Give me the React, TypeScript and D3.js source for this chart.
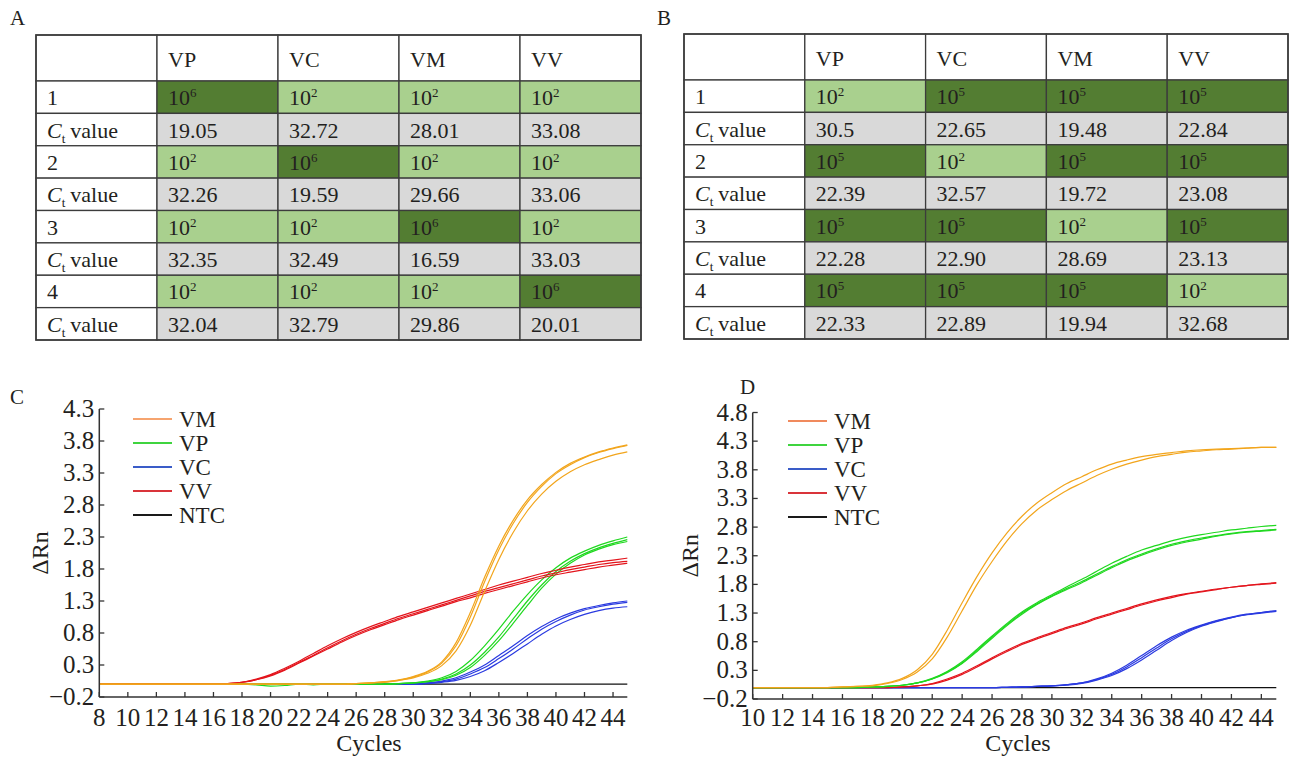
import React from 'react';
import * as d3 from 'd3';

const SERIF = '"Liberation Serif", "Times New Roman", serif';
const INK = '#231f20';

// ---- tables A / B ----
const tableCols = ['VP', 'VC', 'VM', 'VV'];
const tableRuns = ['1', '2', '3', '4'];

const expA = [[6, 2, 2, 2], [2, 6, 2, 2], [2, 2, 6, 2], [2, 2, 2, 6]];
const ctA = [
  ['19.05', '32.72', '28.01', '33.08'],
  ['32.26', '19.59', '29.66', '33.06'],
  ['32.35', '32.49', '16.59', '33.03'],
  ['32.04', '32.79', '29.86', '20.01'],
];

const expB = [[2, 5, 5, 5], [5, 2, 5, 5], [5, 5, 2, 5], [5, 5, 5, 2]];
const ctB = [
  ['30.5', '22.65', '19.48', '22.84'],
  ['22.39', '32.57', '19.72', '23.08'],
  ['22.28', '22.90', '28.69', '23.13'],
  ['22.33', '22.89', '19.94', '32.68'],
];

// ---- amplification curves, panel C (cycles 8..45) ----
const cyclesC = [8, 9, 10, 11, 12, 13, 14, 15, 16, 17, 18, 19, 20, 21, 22, 23, 24, 25, 26, 27, 28, 29, 30, 31, 32, 33, 34, 35, 36, 37, 38, 39, 40, 41, 42, 43, 44, 45];
const yTicksC = [-0.2, 0.3, 0.8, 1.3, 1.8, 2.3, 2.8, 3.3, 3.8, 4.3];
const xTicksC = [8, 10, 12, 14, 16, 18, 20, 22, 24, 26, 28, 30, 32, 34, 36, 38, 40, 42, 44];

const ntcC = [0, 0, 0, 0, 0, 0, 0, 0, 0, 0, 0, 0, 0, 0, 0, 0, 0, 0, 0, 0, 0, 0, 0, 0, 0, 0, 0, 0, 0, 0, 0, 0, 0, 0, 0, 0, 0, 0];
const vmC = [
  [0, 0, 0, 0, 0, 0, 0, 0, 0, 0, 0, 0, 0, 0, 0, 0, 0, 0, 0.01, 0.02, 0.04, 0.07, 0.12, 0.2, 0.35, 0.65, 1.12, 1.67, 2.16, 2.56, 2.88, 3.12, 3.31, 3.45, 3.55, 3.63, 3.69, 3.74],
  [0, 0, 0, 0, 0, 0, 0, 0, 0, 0, 0, 0, 0, 0, 0, 0, 0, 0, 0.01, 0.02, 0.04, 0.06, 0.11, 0.19, 0.33, 0.6, 1.05, 1.6, 2.1, 2.51, 2.84, 3.09, 3.29, 3.43, 3.54, 3.62, 3.68, 3.73],
  [0, 0, 0, 0, 0, 0, 0, 0, 0, 0, 0, 0, 0, 0, 0, 0, 0, 0, 0.01, 0.02, 0.03, 0.06, 0.1, 0.17, 0.29, 0.52, 0.92, 1.45, 1.95, 2.37, 2.71, 2.97, 3.17, 3.32, 3.43, 3.51, 3.58, 3.63],
];
const vpC = [
  [0, 0, 0, 0, 0, 0, 0, 0, 0, 0, 0, -0.01, -0.03, -0.02, 0, -0.01, 0, 0, 0, 0, 0, 0.01, 0.02, 0.05, 0.1, 0.2, 0.37, 0.6, 0.86, 1.14, 1.4, 1.63, 1.82, 1.97, 2.08, 2.17, 2.24, 2.3],
  [0, 0, 0, 0, 0, 0, 0, 0, 0, 0, 0, 0, 0, 0, 0, 0, 0, 0, 0, 0, 0, 0.01, 0.02, 0.04, 0.08, 0.16, 0.3, 0.5, 0.74, 1.02, 1.3, 1.55, 1.76, 1.92, 2.04, 2.13, 2.2, 2.26],
  [0, 0, 0, 0, 0, 0, 0, 0, 0, 0, 0, 0, 0, 0, 0, 0, 0, 0, 0, 0, 0, 0.01, 0.02, 0.04, 0.07, 0.14, 0.26, 0.45, 0.68, 0.95, 1.23, 1.5, 1.72, 1.89, 2.02, 2.11, 2.18, 2.23],
];
const vcC = [
  [0, 0, 0, 0, 0, 0, 0, 0, 0, 0, 0, 0, 0, 0, 0, 0, 0, 0, 0, 0, 0, 0, 0, 0.02, 0.05, 0.1, 0.19, 0.3, 0.45, 0.6, 0.76, 0.9, 1.02, 1.11, 1.18, 1.23, 1.27, 1.3],
  [0, 0, 0, 0, 0, 0, 0, 0, 0, 0, 0, 0, 0, 0, 0, 0, 0, 0, 0, 0, 0, 0, 0, 0.02, 0.04, 0.08, 0.16, 0.26, 0.4, 0.55, 0.71, 0.86, 0.98, 1.08, 1.16, 1.21, 1.25, 1.28],
  [0, 0, 0, 0, 0, 0, 0, 0, 0, 0, 0, 0, 0, 0, 0, 0, 0, 0, 0, 0, 0, 0, 0, 0.01, 0.03, 0.06, 0.12, 0.21, 0.34, 0.48, 0.63, 0.78, 0.91, 1.01, 1.09, 1.15, 1.19, 1.21],
];
const vvC = [
  [0, 0, 0, 0, 0, 0, 0, 0, 0, 0.01, 0.03, 0.08, 0.15, 0.25, 0.36, 0.48, 0.6, 0.71, 0.81, 0.9, 0.98, 1.06, 1.13, 1.2, 1.27, 1.34, 1.41, 1.48, 1.55, 1.61, 1.67, 1.73, 1.78, 1.83, 1.87, 1.91, 1.94, 1.97],
  [0, 0, 0, 0, 0, 0, 0, 0, 0, 0.01, 0.03, 0.07, 0.14, 0.23, 0.34, 0.45, 0.57, 0.68, 0.78, 0.87, 0.95, 1.03, 1.1, 1.17, 1.24, 1.31, 1.38, 1.45, 1.51, 1.57, 1.63, 1.69, 1.74, 1.79, 1.83, 1.87, 1.9, 1.92],
  [0, 0, 0, 0, 0, 0, 0, 0, 0, 0.01, 0.03, 0.07, 0.13, 0.22, 0.33, 0.44, 0.55, 0.66, 0.76, 0.85, 0.93, 1.01, 1.08, 1.15, 1.22, 1.29, 1.35, 1.42, 1.48, 1.54, 1.6, 1.66, 1.71, 1.75, 1.79, 1.83, 1.86, 1.89],
];

// ---- amplification curves, panel D (cycles 10..45) ----
const cyclesD = [10, 11, 12, 13, 14, 15, 16, 17, 18, 19, 20, 21, 22, 23, 24, 25, 26, 27, 28, 29, 30, 31, 32, 33, 34, 35, 36, 37, 38, 39, 40, 41, 42, 43, 44, 45];
const yTicksD = [-0.2, 0.3, 0.8, 1.3, 1.8, 2.3, 2.8, 3.3, 3.8, 4.3, 4.8];
const xTicksD = [10, 12, 14, 16, 18, 20, 22, 24, 26, 28, 30, 32, 34, 36, 38, 40, 42, 44];

const ntcD = [0, 0, 0, 0, 0, 0, 0, 0, 0, 0, 0, 0, 0, 0, 0, 0, 0, 0, 0, 0, 0, 0, 0, 0, 0, 0, 0, 0, 0, 0, 0, 0, 0, 0, 0, 0];
const vmD = [
  [0, 0, 0, 0, 0, 0, 0.01, 0.02, 0.04, 0.08, 0.16, 0.31, 0.58, 1.0, 1.48, 1.94, 2.35, 2.7, 2.99, 3.22, 3.4, 3.56, 3.68, 3.8, 3.9, 3.97, 4.03, 4.07, 4.1, 4.13, 4.15, 4.16, 4.17, 4.18, 4.19, 4.19],
  [0, 0, 0, 0, 0, 0, 0.01, 0.02, 0.03, 0.07, 0.14, 0.27, 0.5, 0.88, 1.34, 1.8, 2.2, 2.56, 2.86, 3.1, 3.28, 3.44, 3.57, 3.7, 3.81, 3.9, 3.97, 4.03, 4.07, 4.11, 4.13, 4.15, 4.16, 4.18, 4.19, 4.19],
];
const vpD = [
  [0, 0, 0, 0, 0, 0, 0, 0, 0.01, 0.02, 0.04, 0.08, 0.16, 0.28, 0.45, 0.67, 0.9, 1.12, 1.32, 1.48, 1.62, 1.76, 1.89, 2.03, 2.17, 2.29, 2.4, 2.48, 2.56, 2.62, 2.67, 2.71, 2.75, 2.78, 2.81, 2.83],
  [0, 0, 0, 0, 0, 0, 0, 0, 0.01, 0.02, 0.04, 0.08, 0.15, 0.27, 0.43, 0.65, 0.88, 1.1, 1.3, 1.46, 1.6, 1.73, 1.85, 1.98, 2.11, 2.23, 2.33, 2.42, 2.5, 2.56, 2.61, 2.65, 2.69, 2.72, 2.74, 2.76],
  [0, 0, 0, 0, 0, 0, 0, 0, 0.01, 0.02, 0.04, 0.08, 0.15, 0.26, 0.42, 0.63, 0.86, 1.08, 1.28, 1.45, 1.59, 1.71, 1.83, 1.96, 2.09, 2.21, 2.31, 2.4, 2.48, 2.54, 2.59, 2.64, 2.68, 2.71, 2.73, 2.75],
];
const vcD = [
  [0, 0, 0, 0, 0, 0, 0, 0, 0, 0, 0, 0, 0, 0, 0, 0, 0, 0.005, 0.01, 0.02, 0.03, 0.05, 0.08, 0.15, 0.25, 0.39, 0.56, 0.73, 0.88, 1.0, 1.09, 1.17, 1.23, 1.28, 1.31, 1.34],
  [0, 0, 0, 0, 0, 0, 0, 0, 0, 0, 0, 0, 0, 0, 0, 0, 0, 0.005, 0.01, 0.02, 0.03, 0.05, 0.08, 0.14, 0.23, 0.36, 0.52, 0.69, 0.85, 0.98, 1.08, 1.16, 1.22, 1.27, 1.31, 1.34],
  [0, 0, 0, 0, 0, 0, 0, 0, 0, 0, 0, 0, 0, 0, 0, 0, 0, 0.005, 0.01, 0.02, 0.03, 0.04, 0.07, 0.13, 0.21, 0.33, 0.48, 0.65, 0.82, 0.96, 1.07, 1.15, 1.22, 1.27, 1.3, 1.33],
];
const vvD = [
  [0, 0, 0, 0, 0, 0, 0, 0, 0, 0, 0.01, 0.03, 0.07, 0.15, 0.25, 0.38, 0.52, 0.65, 0.77, 0.87, 0.96, 1.05, 1.13, 1.22, 1.3, 1.38, 1.46, 1.53, 1.59, 1.64, 1.68, 1.72, 1.75, 1.78, 1.81, 1.83],
  [0, 0, 0, 0, 0, 0, 0, 0, 0, 0, 0.01, 0.03, 0.06, 0.13, 0.23, 0.36, 0.5, 0.63, 0.75, 0.85, 0.94, 1.03, 1.11, 1.2, 1.28, 1.36, 1.44, 1.51, 1.57, 1.63, 1.67, 1.71, 1.75, 1.78, 1.8, 1.82],
];

const legendNames = ['VM', 'VP', 'VC', 'VV', 'NTC'];

const DARK = '#537d32';
const LIGHT = '#a9d08e';
const GREY = '#d9d9d9';

type TableProps = {
  label: string; lx: number; x0: number; x1: number; y0: number; y1: number;
  exps: number[][]; cts: string[][];
};

const CtTable = ({ label, lx, x0, x1, y0, y1, exps, cts }: TableProps) => {
  const headH = 46;
  const col = d3.scaleBand<number>().domain([0, 1, 2, 3, 4]).range([x0, x1]);
  const row = d3.scaleBand<number>().domain(d3.range(8)).range([y0 + headH, y1]);
  const cw = col.bandwidth();
  const rh = row.bandwidth();
  const fs = 22;
  const stroke = '#3c3c3c';

  const cells: React.ReactNode[] = [];
  // header row
  [''].concat(tableCols).forEach((c, j) => {
    cells.push(
      <g key={`h${j}`}>
        <rect x={col(j)} y={y0} width={cw} height={headH} fill="#fff" stroke={stroke} strokeWidth={1.3} />
        <text x={(col(j) as number) + 11} y={y0 + headH / 2 + 9} fontSize={fs} fill={INK}>{c}</text>
      </g>
    );
  });
  tableRuns.forEach((r, i) => {
    const ye = row(i * 2) as number;
    const yc = row(i * 2 + 1) as number;
    cells.push(
      <g key={`r${i}`}>
        <rect x={col(0)} y={ye} width={cw} height={rh} fill="#fff" stroke={stroke} strokeWidth={1.3} />
        <text x={(col(0) as number) + 11} y={ye + rh / 2 + 8} fontSize={fs} fill={INK}>{r}</text>
        <rect x={col(0)} y={yc} width={cw} height={rh} fill="#fff" stroke={stroke} strokeWidth={1.3} />
        <text x={(col(0) as number) + 11} y={yc + rh / 2 + 8} fontSize={fs} fill={INK}>
          <tspan fontStyle="italic">C</tspan>
          <tspan dy={5} fontSize={13}>t</tspan>
          <tspan dy={-5} dx={5}>value</tspan>
        </text>
      </g>
    );
    exps[i].forEach((e, j) => {
      const cx = col(j + 1) as number;
      cells.push(
        <g key={`c${i}-${j}`}>
          <rect x={cx} y={ye} width={cw} height={rh} fill={e >= 5 ? DARK : LIGHT} stroke={stroke} strokeWidth={1.3} />
          <text x={cx + 11} y={ye + rh / 2 + 8} fontSize={fs} fill={INK}>
            10<tspan dy={-8} fontSize={13}>{e}</tspan>
          </text>
          <rect x={cx} y={yc} width={cw} height={rh} fill={GREY} stroke={stroke} strokeWidth={1.3} />
          <text x={cx + 11} y={yc + rh / 2 + 8} fontSize={fs} fill={INK}>{cts[i][j]}</text>
        </g>
      );
    });
  });

  return (
    <g>
      <text x={lx} y={25} fontSize={21} fill={INK}>{label}</text>
      {cells}
      <rect x={x0} y={y0} width={x1 - x0} height={y1 - y0} fill="none" stroke={stroke} strokeWidth={1.6} />
    </g>
  );
};

type Series = { name: string; color: string; legend: string; reps: number[][] };

type ChartProps = {
  label: string; labelX: number; labelY: number;
  cycles: number[]; xDomain: [number, number]; xRange: [number, number];
  yDomain: [number, number]; yRange: [number, number];
  xTicks: number[]; yTicks: number[];
  series: Series[]; ntc: number[];
  legX: number; legY: number; legStep: number;
  yTitleX: number; xTitleX: number;
};

const fmt = (v: number) => (v < 0 ? '\u2212' + Math.abs(v).toFixed(1) : v.toFixed(1));

const AmpChart = (p: ChartProps) => {
  const x = d3.scaleLinear().domain(p.xDomain).range(p.xRange);
  const y = d3.scaleLinear().domain(p.yDomain).range(p.yRange);
  const line = d3.line<number>()
    .x((_, i) => x(p.cycles[i]))
    .y(v => y(v))
    .curve(d3.curveMonotoneX);
  const x0 = p.xRange[0];
  const yb = y(p.yDomain[0]);
  const axis = '#333';

  return (
    <g fontFamily={SERIF} fill={INK}>
      <text x={p.labelX} y={p.labelY} fontSize={21}>{p.label}</text>

      {/* curves */}
      <path d={line(p.ntc) || ''} fill="none" stroke="#111" strokeWidth={1.3} />
      {p.series.map(s =>
        s.reps.map((r, k) => (
          <path key={`${s.name}${k}`} d={line(r) || ''} fill="none" stroke={s.color} strokeWidth={1.2} />
        ))
      )}

      {/* axes */}
      <line x1={x0} x2={x0} y1={yb} y2={y(p.yDomain[1])} stroke={axis} strokeWidth={1.5} />
      <line x1={x0} x2={p.xRange[1]} y1={yb} y2={yb} stroke={axis} strokeWidth={1.5} />
      {p.yTicks.map(t => (
        <g key={`y${t}`}>
          <line x1={x0} x2={x0 + 5} y1={y(t)} y2={y(t)} stroke={axis} strokeWidth={1.3} />
          <text x={x0 - 5} y={y(t) + 8} fontSize={25} textAnchor="end">{fmt(t)}</text>
        </g>
      ))}
      {p.xTicks.map(t => (
        <g key={`x${t}`}>
          <line x1={x(t)} x2={x(t)} y1={yb} y2={yb - 5} stroke={axis} strokeWidth={1.3} />
          <text x={x(t)} y={726} fontSize={25} textAnchor="middle">{t}</text>
        </g>
      ))}
      <text transform={`translate(${p.yTitleX},${(yb + y(p.yDomain[1])) / 2}) rotate(-90)`} fontSize={24} textAnchor="middle">ΔRn</text>
      <text x={p.xTitleX} y={751} fontSize={24} textAnchor="middle">Cycles</text>

      {/* legend */}
      {legendNames.map((n, i) => {
        const s = p.series.find(d => d.name === n);
        const c = s ? s.legend : '#1a1a1a';
        const ly = p.legY + i * p.legStep;
        return (
          <g key={n}>
            <line x1={p.legX} x2={p.legX + 39} y1={ly} y2={ly} stroke={c} strokeWidth={2} />
            <text x={p.legX + 46} y={ly + 8} fontSize={23}>{n}</text>
          </g>
        );
      })}
    </g>
  );
};

const seriesC: Series[] = [
  { name: 'VC', color: '#2a3ae0', legend: '#3a5cc8', reps: vcC },
  { name: 'VP', color: '#1fd81f', legend: '#3fd43f', reps: vpC },
  { name: 'VV', color: '#e3141c', legend: '#d9343a', reps: vvC },
  { name: 'VM', color: '#f2a51c', legend: '#f6a46f', reps: vmC },
];

const seriesD: Series[] = [
  { name: 'VC', color: '#2a3ae0', legend: '#3a5cc8', reps: vcD },
  { name: 'VV', color: '#e3141c', legend: '#d9343a', reps: vvD },
  { name: 'VP', color: '#1fd81f', legend: '#3fd43f', reps: vpD },
  { name: 'VM', color: '#f2a51c', legend: '#f08a5d', reps: vmD },
];

const App = () => (
  <svg width={1289} height={759} style={{ position: 'absolute', left: 0, top: 0 }} fontFamily={SERIF}>
    <rect width={1289} height={759} fill="#fff" />
    <CtTable label="A" lx={10} x0={36} x1={641} y0={35} y1={340} exps={expA} cts={ctA} />
    <CtTable label="B" lx={657} x0={684} x1={1288} y0={34} y1={339} exps={expB} cts={ctB} />
    <AmpChart
      label="C" labelX={10} labelY={404}
      cycles={cyclesC} xDomain={[8, 45]} xRange={[99.3, 627.3]}
      yDomain={[-0.2, 4.3]} yRange={[697, 409]}
      xTicks={xTicksC} yTicks={yTicksC}
      series={seriesC} ntc={ntcC}
      legX={133} legY={419} legStep={24}
      yTitleX={48} xTitleX={369}
    />
    <AmpChart
      label="D" labelX={740} labelY={394}
      cycles={cyclesD} xDomain={[10, 45]} xRange={[752.7, 1276.3]}
      yDomain={[-0.2, 4.8]} yRange={[699, 412.5]}
      xTicks={xTicksD} yTicks={yTicksD}
      series={seriesD} ntc={ntcD}
      legX={788} legY={421} legStep={24}
      yTitleX={698} xTitleX={1018}
    />
  </svg>
);

export default App;
